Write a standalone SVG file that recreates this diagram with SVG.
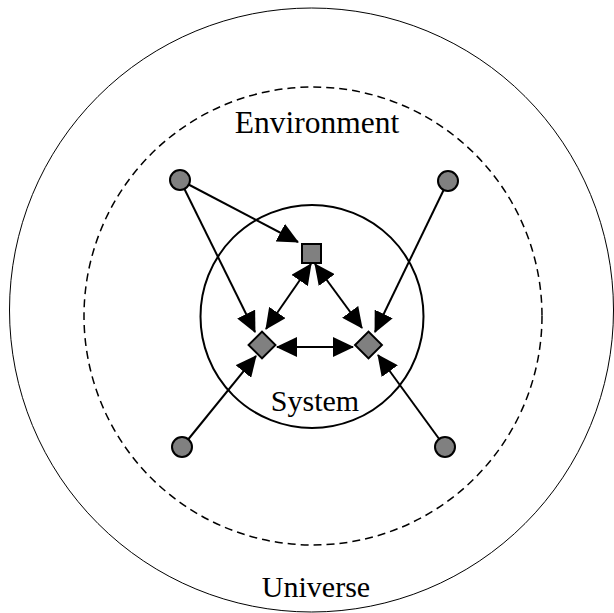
<svg xmlns="http://www.w3.org/2000/svg" width="614" height="613" viewBox="0 0 614 613">
<style>
.lbl{font-family:"Liberation Serif","Times New Roman",serif;font-size:30px;fill:#000;text-anchor:middle}
.dot{fill:#808080;stroke:#000;stroke-width:2}
.box{fill:#808080;stroke:#000;stroke-width:2}
.con{stroke:#000;stroke-width:2;fill:none}
</style>
<defs>
<marker id="ah" markerUnits="userSpaceOnUse" markerWidth="21" markerHeight="20" refX="20" refY="10" orient="auto-start-reverse" viewBox="0 0 21 20">
<path d="M0,0 L21,10 L0,20 z" fill="#000"/>
</marker>
</defs>
<rect width="614" height="613" fill="#fff"/>
<g id="universe">
<circle cx="311.5" cy="310" r="302" fill="none" stroke="#000" stroke-width="1"/>
<text class="lbl" x="316" y="597">Universe</text>
</g>
<g id="environment">
<circle cx="313" cy="316" r="229" fill="none" stroke="#000" stroke-width="1.5" stroke-dasharray="8 5"/>
<text class="lbl" x="317" y="133" style="font-size:31.5px">Environment</text>
</g>
<g id="system">
<circle cx="312" cy="316.5" r="111.5" fill="none" stroke="#000" stroke-width="2"/>
<text class="lbl" x="315" y="411">System</text>
</g>
<g id="connectors">
<line class="con" x1="180" y1="180" x2="298" y2="242" marker-end="url(#ah)"/>
<line class="con" x1="180" y1="180" x2="255" y2="332" marker-end="url(#ah)"/>
<line class="con" x1="448" y1="181" x2="375" y2="332" marker-end="url(#ah)"/>
<line class="con" x1="182" y1="447" x2="256" y2="356" marker-end="url(#ah)"/>
<line class="con" x1="445" y1="447" x2="378" y2="355" marker-end="url(#ah)"/>
<line class="con" x1="311" y1="264" x2="266" y2="329" marker-start="url(#ah)" marker-end="url(#ah)"/>
<line class="con" x1="315" y1="264" x2="362" y2="328" marker-start="url(#ah)" marker-end="url(#ah)"/>
<line class="con" x1="277" y1="347" x2="353" y2="347" marker-start="url(#ah)" marker-end="url(#ah)"/>
</g>
<g id="env-node-tl"><circle class="dot" cx="180" cy="180" r="10"/></g>
<g id="env-node-tr"><circle class="dot" cx="448" cy="181" r="10"/></g>
<g id="env-node-bl"><circle class="dot" cx="182" cy="447" r="10"/></g>
<g id="env-node-br"><circle class="dot" cx="445" cy="447" r="10"/></g>
<g id="sys-node-top"><rect class="box" x="302" y="244" width="19" height="19"/></g>
<g id="sys-node-left"><rect class="box" x="-9.5" y="-9.5" width="19" height="19" transform="translate(262 345) rotate(45)"/></g>
<g id="sys-node-right"><rect class="box" x="-9.5" y="-9.5" width="19" height="19" transform="translate(368.5 345) rotate(45)"/></g>
</svg>
